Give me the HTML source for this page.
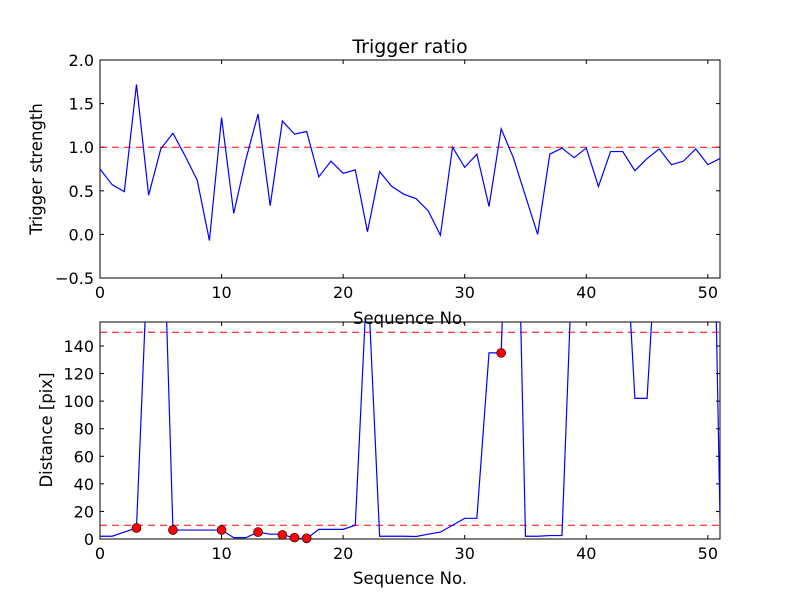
<!DOCTYPE html>
<html><head><meta charset="utf-8"><style>
body{margin:0;background:#fff}
svg{display:block;font-family:"DejaVu Sans","Liberation Sans",sans-serif}
</style></head><body>
<svg id="chart" width="800" height="600" xmlns="http://www.w3.org/2000/svg">
<rect width="800" height="600" fill="#fff"/>
<defs>
<clipPath id="c1"><rect x="100" y="60" width="620" height="218"/></clipPath>
<clipPath id="c2"><rect x="100" y="322" width="620" height="217"/></clipPath>
</defs>
<g id="g"></g>
</svg>
<script>
const strength=[0.75,0.57,0.49,1.72,0.45,0.98,1.16,0.9,0.62,-0.07,1.34,0.24,0.86,1.38,0.33,1.3,1.15,1.18,0.66,0.84,0.7,0.74,0.03,0.72,0.55,0.46,0.41,0.27,-0.01,1.0,0.77,0.92,0.32,1.21,0.88,0.44,0.0,0.92,0.99,0.88,0.99,0.55,0.95,0.95,0.73,0.87,0.98,0.8,0.84,0.98,0.8,0.87];
const distance=[2,2,5,8,220,300,6.5,6.5,6.5,6.5,6.5,1,1,5,3.5,3.5,0.5,0.3,7,7,7,10,195,2,2,2,1.8,3.5,5,10,15,15,135,135,400,2,2,2.5,2.5,237,300,300,300,259,102,102,250,300,300,300,488,15];
const markX=[3,6,10,13,15,16,17,33];
const markY=[8,6.5,6.5,5,3,1,0.5,135];
const topTicksY=[-0.5,0.0,0.5,1.0,1.5,2.0];
const botTicksY=[0,20,40,60,80,100,120,140];
const ticksX=[0,10,20,30,40,50];
const topRef=[1.0];
const botRef=[10,150];

const NS="http://www.w3.org/2000/svg";
const g=document.getElementById('g');
function el(t,a,p){const e=document.createElementNS(NS,t);for(const k in a)e.setAttribute(k,a[k]);(p||g).appendChild(e);return e;}
const L=100,R=720,xMax=51;
const xs=v=>L+(R-L)*v/xMax;
const y1=v=>278-(v+0.5)/2.5*218;
const y2=v=>539-v/157.4*217;

function axes(top,bot,yf,ticks,fmt,name){
  const f=el('rect',{x:L,y:top,width:R-L,height:bot-top,fill:'none',stroke:'#000','stroke-width':1});
  
  
  ticks.forEach(t=>{const y=yf(t);
    el('line',{x1:L,x2:L+4,y1:y,y2:y,stroke:'#000'});
    el('line',{x1:R,x2:R-4,y1:y,y2:y,stroke:'#000'});
    const tx=el('text',{x:L-6,y:y+6,'text-anchor':'end','font-size':16});
    tx.textContent=fmt(t);
    
    
  });
  ticksX.forEach(t=>{const x=xs(t);
    el('line',{x1:x,x2:x,y1:bot,y2:bot-4,stroke:'#000'});
    el('line',{x1:x,x2:x,y1:top,y2:top+4,stroke:'#000'});
    const tx=el('text',{x:x,y:bot+20,'text-anchor':'middle','font-size':16});
    tx.textContent=t;
    
    
  });
}
axes(60,278,y1,topTicksY,t=>t.toFixed(1).replace('-','−'),'top');
axes(322,539,y2,botTicksY,t=>String(t),'bottom');

topRef.forEach(v=>{const l=el('line',{x1:L,x2:R,y1:y1(v),y2:y1(v),stroke:'#f00','stroke-dasharray':'7,5'});

});
const p1=el('polyline',{points:strength.map((v,i)=>xs(i)+','+y1(v)).join(' '),fill:'none',stroke:'#00f','stroke-width':1.2,'clip-path':'url(#c1)'});



botRef.forEach(v=>{const l=el('line',{x1:L,x2:R,y1:y2(v),y2:y2(v),stroke:'#f00','stroke-dasharray':'7,5'});

});
const cg=el('g',{'clip-path':'url(#c2)'});
const p2=el('polyline',{points:distance.map((v,i)=>xs(i)+','+y2(v)).join(' '),fill:'none',stroke:'#00f','stroke-width':1.2},cg);


markX.forEach((x,i)=>{const c=el('circle',{cx:xs(x),cy:y2(markY[i]),r:4.5,fill:'#f00',stroke:'#000','stroke-width':0.6});

});

function txt(x,y,s,size,name,rot){const t=el('text',{x:x,y:y,'text-anchor':'middle','font-size':size});
if(rot)t.setAttribute('transform','rotate(-90 '+x+' '+y+')');
t.textContent=s;

}
txt(410,53,'Trigger ratio',19,'chart-title');
txt(410,324,'Sequence No.',16.5,'top-x-axis-title');
txt(410,584,'Sequence No.',16.5,'bottom-x-axis-title');
txt(42,169,'Trigger strength',16.5,'top-y-axis-title',true);
txt(52,430,'Distance [pix]',16.5,'bottom-y-axis-title',true);
</script>
</body></html>
